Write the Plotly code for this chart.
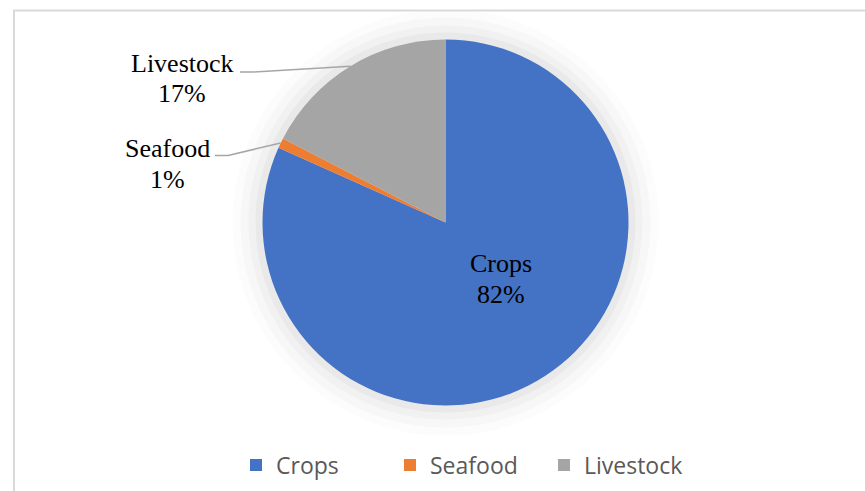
import math
import plotly.graph_objects as go

categories = ["Crops", "Seafood", "Livestock"]
values = [81.7, 0.9, 17.4]
colors = ["#4472C4", "#ED7D31", "#A5A5A5"]

W, H = 865, 491
cx, cy, R = 445.5, 222.5, 183.0  # pie centre / radius in pixels (layout)

def px(x):
    return x / W

def py(y):
    return 1 - y / H

fig = go.Figure()
fig.add_trace(go.Pie(
    labels=categories,
    values=values,
    marker=dict(colors=colors, line=dict(width=0)),
    sort=False,
    direction="clockwise",
    rotation=0,
    textinfo="none",
    hoverinfo="label+percent",
    domain=dict(x=[px(cx - R), px(cx + R)], y=[py(cy + R), py(cy - R)]),
))

total = sum(values)
pcts = [round(v / total * 100) for v in values]

# label placements (layout: x centre, centre of first line, centre of second line; pixels)
label_pos = {
    "Crops": (501, 263, 294),
    "Seafood": (167, 148, 179),
    "Livestock": (182, 63, 94),
}
label_font = dict(family="Liberation Serif, Times New Roman, serif", size=26, color="#000000")
for cat, p in zip(categories, pcts):
    x, y1, y2 = label_pos[cat]
    for txt, yy in ((cat, y1), (f"{p}%", y2)):
        fig.add_annotation(
            x=px(x), y=py(yy), xref="paper", yref="paper",
            text=txt, showarrow=False,
            xanchor="center", yanchor="middle", font=label_font,
        )

# leader lines from outside labels to slice midpoints (computed from data)
cum = 0
mids = {}
for cat, v in zip(categories, values):
    mids[cat] = (cum + v / 2) / total * 2 * math.pi
    cum += v
leader_start = {"Seafood": (215, 155.5), "Livestock": (240, 72)}
shapes = []
# soft shadow around the pie
for dr, col in [(30, "#fcfcfc"), (22, "#f7f7f7"), (14, "#f1f1f1"), (7, "#e9e9e9")]:
    shapes.append(dict(type="circle", xref="paper", yref="paper",
                       x0=px(cx - R - dr), x1=px(cx + R + dr),
                       y0=py(cy + R + dr), y1=py(cy - R - dr),
                       fillcolor=col, line=dict(width=0), layer="below"))
for cat, (sx, sy) in leader_start.items():
    a = mids[cat]
    ex = cx + R * math.sin(a)
    ey = cy - R * math.cos(a)
    path = f"M{px(sx)},{py(sy)} L{px(sx + 13)},{py(sy)} L{px(ex)},{py(ey)}"
    shapes.append(dict(type="path", xref="paper", yref="paper", path=path,
                       line=dict(color="#A6A6A6", width=1.5)))
# chart border
shapes.append(dict(type="rect", xref="paper", yref="paper",
                   x0=px(14), x1=1.05, y0=-0.05, y1=py(10.5),
                   line=dict(color="#D9D9D9", width=2), layer="below"))

fig.update_layout(
    width=W, height=H,
    margin=dict(l=0, r=0, t=0, b=0),
    paper_bgcolor="white",
    plot_bgcolor="white",
    shapes=shapes,
    showlegend=True,
    legend=dict(
        orientation="h",
        x=px(236), xanchor="left",
        y=py(465), yanchor="middle",
        font=dict(family="Open Sans, sans-serif", size=23, color="#595959"),
        entrywidth=109, entrywidthmode="pixels",
        itemclick=False,
    ),
)

fig.write_html("out.html")
